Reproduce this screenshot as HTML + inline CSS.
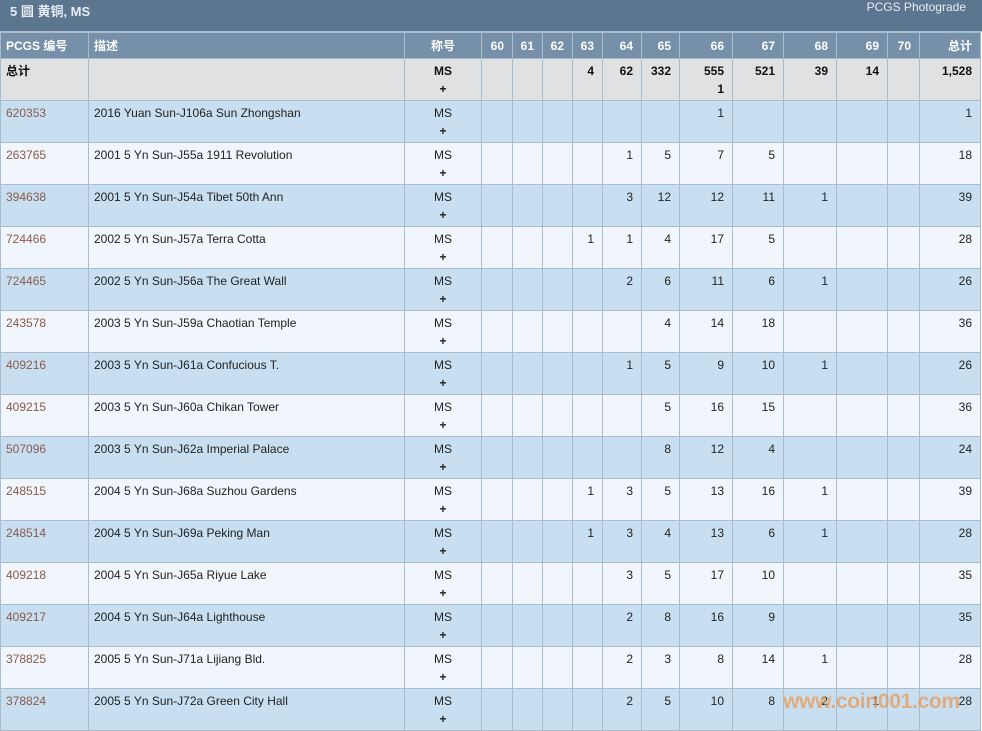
<!DOCTYPE html>
<html><head><meta charset="utf-8"><style>
*{margin:0;padding:0;box-sizing:border-box}
body{width:982px;height:731px;overflow:hidden;background:#fff;font-family:"Liberation Sans","Noto Sans CJK SC",sans-serif;font-size:12px;color:#222;position:relative}
.top{position:absolute;left:0;top:0;width:982px;height:32px;background:#5d7690;border-bottom:1px solid #a9bccd}
.top .t{position:absolute;left:10px;top:1px;color:#e6edf4;font-weight:bold;font-size:13px}
.top .p{position:absolute;right:16px;top:0px;color:#e6edf4;font-size:12px}
table{position:absolute;left:0;top:32px;border-collapse:collapse;table-layout:fixed;width:981px}
td,th{border:1px solid #a9bccd;vertical-align:top;padding:3px 8px 0 5px;line-height:18px;white-space:nowrap;overflow:hidden}
th{background:#7590a8;color:#fff;height:26px;font-weight:bold;padding-top:4px}
tr.tot td{background:#e0e1e2;font-weight:bold;color:#111;height:42px}
tr.a td{background:#c8dff2;height:42px}
tr.b td{background:#f0f6fb;height:42px}
.c{text-align:center;padding-left:0;padding-right:0}
.r{text-align:right}
.code{color:#8a5a4a;padding-left:5px}
.wm{position:absolute;left:783px;top:690px;font-size:21px;font-weight:bold;color:rgba(232,150,80,0.7);letter-spacing:-0.3px}
</style></head><body>
<div class="top"><span class="t">5 圆 黄铜, MS</span><span class="p">PCGS Photograde</span></div>
<table>
<colgroup><col style="width:88px"><col style="width:316px"><col style="width:77px"><col style="width:31px"><col style="width:30px"><col style="width:30px"><col style="width:30px"><col style="width:39px"><col style="width:38px"><col style="width:53px"><col style="width:51px"><col style="width:53px"><col style="width:51px"><col style="width:32px"><col style="width:61px"></colgroup>
<tr><th style="text-align:left">PCGS 编号</th><th style="text-align:left">描述</th><th class="c">称号</th><th class="r">60</th><th class="r">61</th><th class="r">62</th><th class="r">63</th><th class="r">64</th><th class="r">65</th><th class="r">66</th><th class="r">67</th><th class="r">68</th><th class="r">69</th><th class="r">70</th><th class="r">总计</th></tr>
<tr class="tot"><td>总计</td><td></td><td class="c">MS<br>+</td><td></td><td></td><td></td><td class="r">4</td><td class="r">62</td><td class="r">332</td><td class="r">555<br>1</td><td class="r">521</td><td class="r">39</td><td class="r">14</td><td></td><td class="r">1,528</td></tr>
<tr class="a"><td class="code">620353</td><td>2016 Yuan Sun-J106a Sun Zhongshan</td><td class="c">MS<br><b>+</b></td><td></td><td></td><td></td><td></td><td></td><td></td><td class="r">1</td><td></td><td></td><td></td><td></td><td class="r">1</td></tr>
<tr class="b"><td class="code">263765</td><td>2001 5 Yn Sun-J55a 1911 Revolution</td><td class="c">MS<br><b>+</b></td><td></td><td></td><td></td><td></td><td class="r">1</td><td class="r">5</td><td class="r">7</td><td class="r">5</td><td></td><td></td><td></td><td class="r">18</td></tr>
<tr class="a"><td class="code">394638</td><td>2001 5 Yn Sun-J54a Tibet 50th Ann</td><td class="c">MS<br><b>+</b></td><td></td><td></td><td></td><td></td><td class="r">3</td><td class="r">12</td><td class="r">12</td><td class="r">11</td><td class="r">1</td><td></td><td></td><td class="r">39</td></tr>
<tr class="b"><td class="code">724466</td><td>2002 5 Yn Sun-J57a Terra Cotta</td><td class="c">MS<br><b>+</b></td><td></td><td></td><td></td><td class="r">1</td><td class="r">1</td><td class="r">4</td><td class="r">17</td><td class="r">5</td><td></td><td></td><td></td><td class="r">28</td></tr>
<tr class="a"><td class="code">724465</td><td>2002 5 Yn Sun-J56a The Great Wall</td><td class="c">MS<br><b>+</b></td><td></td><td></td><td></td><td></td><td class="r">2</td><td class="r">6</td><td class="r">11</td><td class="r">6</td><td class="r">1</td><td></td><td></td><td class="r">26</td></tr>
<tr class="b"><td class="code">243578</td><td>2003 5 Yn Sun-J59a Chaotian Temple</td><td class="c">MS<br><b>+</b></td><td></td><td></td><td></td><td></td><td></td><td class="r">4</td><td class="r">14</td><td class="r">18</td><td></td><td></td><td></td><td class="r">36</td></tr>
<tr class="a"><td class="code">409216</td><td>2003 5 Yn Sun-J61a Confucious T.</td><td class="c">MS<br><b>+</b></td><td></td><td></td><td></td><td></td><td class="r">1</td><td class="r">5</td><td class="r">9</td><td class="r">10</td><td class="r">1</td><td></td><td></td><td class="r">26</td></tr>
<tr class="b"><td class="code">409215</td><td>2003 5 Yn Sun-J60a Chikan Tower</td><td class="c">MS<br><b>+</b></td><td></td><td></td><td></td><td></td><td></td><td class="r">5</td><td class="r">16</td><td class="r">15</td><td></td><td></td><td></td><td class="r">36</td></tr>
<tr class="a"><td class="code">507096</td><td>2003 5 Yn Sun-J62a Imperial Palace</td><td class="c">MS<br><b>+</b></td><td></td><td></td><td></td><td></td><td></td><td class="r">8</td><td class="r">12</td><td class="r">4</td><td></td><td></td><td></td><td class="r">24</td></tr>
<tr class="b"><td class="code">248515</td><td>2004 5 Yn Sun-J68a Suzhou Gardens</td><td class="c">MS<br><b>+</b></td><td></td><td></td><td></td><td class="r">1</td><td class="r">3</td><td class="r">5</td><td class="r">13</td><td class="r">16</td><td class="r">1</td><td></td><td></td><td class="r">39</td></tr>
<tr class="a"><td class="code">248514</td><td>2004 5 Yn Sun-J69a Peking Man</td><td class="c">MS<br><b>+</b></td><td></td><td></td><td></td><td class="r">1</td><td class="r">3</td><td class="r">4</td><td class="r">13</td><td class="r">6</td><td class="r">1</td><td></td><td></td><td class="r">28</td></tr>
<tr class="b"><td class="code">409218</td><td>2004 5 Yn Sun-J65a Riyue Lake</td><td class="c">MS<br><b>+</b></td><td></td><td></td><td></td><td></td><td class="r">3</td><td class="r">5</td><td class="r">17</td><td class="r">10</td><td></td><td></td><td></td><td class="r">35</td></tr>
<tr class="a"><td class="code">409217</td><td>2004 5 Yn Sun-J64a Lighthouse</td><td class="c">MS<br><b>+</b></td><td></td><td></td><td></td><td></td><td class="r">2</td><td class="r">8</td><td class="r">16</td><td class="r">9</td><td></td><td></td><td></td><td class="r">35</td></tr>
<tr class="b"><td class="code">378825</td><td>2005 5 Yn Sun-J71a Lijiang Bld.</td><td class="c">MS<br><b>+</b></td><td></td><td></td><td></td><td></td><td class="r">2</td><td class="r">3</td><td class="r">8</td><td class="r">14</td><td class="r">1</td><td></td><td></td><td class="r">28</td></tr>
<tr class="a"><td class="code">378824</td><td>2005 5 Yn Sun-J72a Green City Hall</td><td class="c">MS<br><b>+</b></td><td></td><td></td><td></td><td></td><td class="r">2</td><td class="r">5</td><td class="r">10</td><td class="r">8</td><td class="r">2</td><td class="r">1</td><td></td><td class="r">28</td></tr>
</table>
<div class="wm">www.coin001.com</div>
</body></html>
